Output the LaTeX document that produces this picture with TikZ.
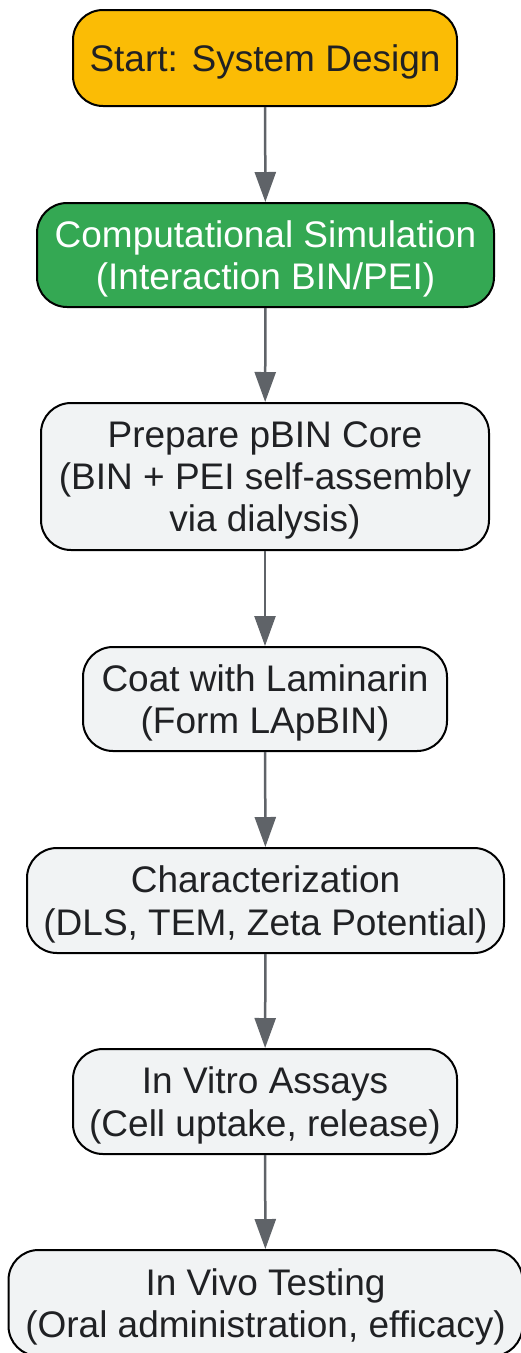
\documentclass[tikz,border=0pt]{standalone}
\usepackage{fontspec}
\setmainfont{Liberation Sans}
\usetikzlibrary{arrows.meta}
\definecolor{startfill}{HTML}{FBBC05}
\definecolor{simfill}{HTML}{34A853}
\definecolor{stepfill}{HTML}{F1F3F4}
\definecolor{txt}{HTML}{202124}
\definecolor{arr}{HTML}{5F6368}
\tikzset{
  box/.style={draw=black, line width=2pt, rounded corners=30pt, align=center,
    inner sep=0pt, text=txt, fill=stepfill, text depth=-2pt,
    font=\fontsize{37}{42.3}\selectfont},
  flow/.style={draw=arr, line width=2.5pt, -{Triangle[width=21pt,length=30pt]}}
}
\begin{document}
\begin{tikzpicture}[x=1pt,y=-1pt]
\useasboundingbox (0,0) rectangle (521,1353);
\node[box, fill=startfill, minimum width=384pt, minimum height=96pt] (n1) at (265,58) {Start: System Design};
\node[box, fill=simfill, text=white, minimum width=457pt, minimum height=104pt] (n2) at (265.5,255) {Computational Simulation\\(Interaction BIN/PEI)};
\node[box, minimum width=448pt, minimum height=147pt] (n3) at (265,476.5) {Prepare pBIN Core\\(BIN + PEI self-assembly\\via dialysis)};
\node[box, minimum width=364pt, minimum height=104pt] (n4) at (265,699) {Coat with Laminarin\\(Form LApBIN)};
\node[box, minimum width=477pt, minimum height=105pt] (n5) at (265.5,900.5) {Characterization\\(DLS, TEM, Zeta Potential)};
\node[box, minimum width=384pt, minimum height=105pt] (n6) at (265,1101.5) {In Vitro Assays\\(Cell uptake, release)};
\node[box, minimum width=514pt, minimum height=106pt] (n7) at (265.5,1303) {In Vivo Testing\\(Oral administration, efficacy)};
\draw[flow] (n1) -- (n2);
\draw[flow] (n2) -- (n3);
\draw[flow] (n3) -- (n4);
\draw[flow] (n4) -- (n5);
\draw[flow] (n5) -- (n6);
\draw[flow] (n6) -- (n7);
\end{tikzpicture}
\end{document}
